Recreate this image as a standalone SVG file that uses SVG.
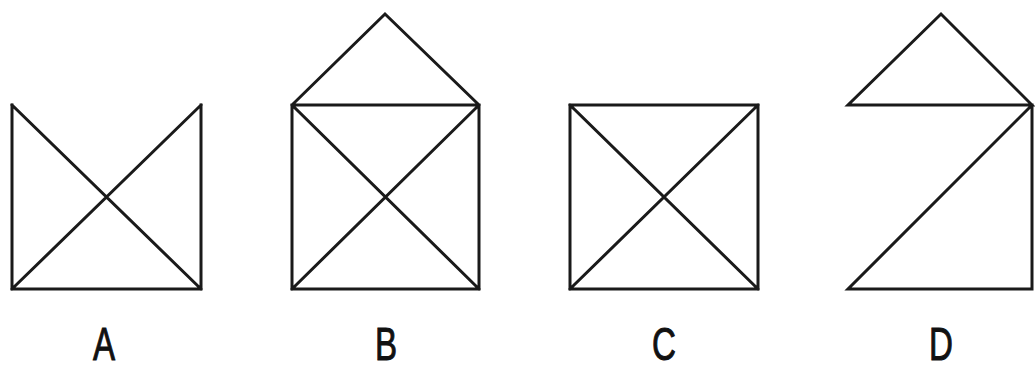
<svg xmlns="http://www.w3.org/2000/svg" width="1035" height="370" viewBox="0 0 1035 370">
<style>
.ln{fill:none;stroke:#1a1a1a;stroke-width:3;stroke-linejoin:miter;stroke-linecap:square}
.lb{font-family:"Liberation Sans",Arial,sans-serif;font-size:46px;fill:#111;stroke:#111;stroke-width:1;text-anchor:middle}
</style>
<rect width="1035" height="370" fill="#fff"/>
<g id="figA">
<path class="ln" d="M12,105 L12,289 L201,289 L201,105 M12,105 L201,289 M201,105 L12,289"/>
<text class="lb" transform="translate(104,360) scale(0.72,1)">A</text>
</g>
<g id="figB">
<path class="ln" d="M292,105 L479,105 L479,289 L292,289 Z M292,105 L479,289 M479,105 L292,289 M292,105 L385,14 L479,105"/>
<text class="lb" transform="translate(386,360) scale(0.72,1)">B</text>
</g>
<g id="figC">
<path class="ln" d="M570,105 L758,105 L758,289 L570,289 Z M570,105 L758,289 M758,105 L570,289"/>
<text class="lb" transform="translate(664,360) scale(0.72,1)">C</text>
</g>
<g id="figD">
<path class="ln" d="M848,105 L1032,105 L941,14 Z M1032,105 L1032,289 L848,289 L1032,105"/>
<text class="lb" transform="translate(941,360) scale(0.72,1)">D</text>
</g>
</svg>
